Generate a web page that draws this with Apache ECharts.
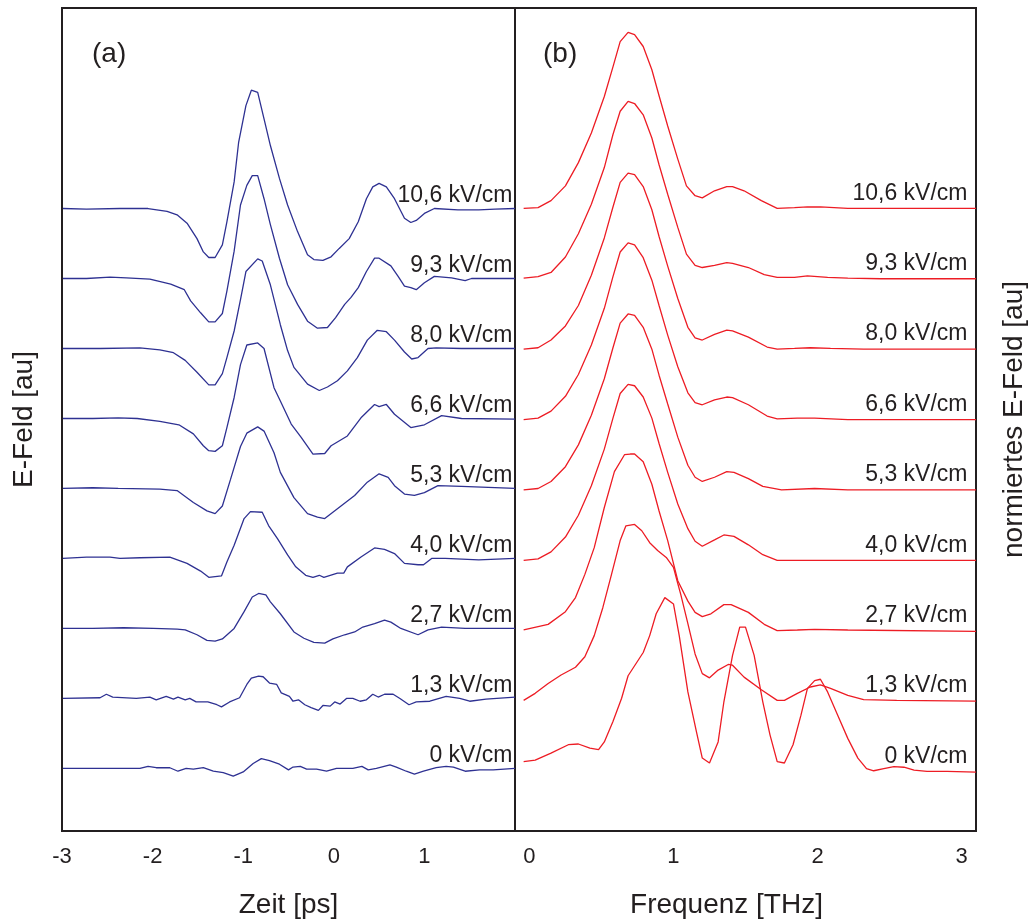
<!DOCTYPE html>
<html>
<head>
<meta charset="utf-8">
<script src="https://cdn.jsdelivr.net/npm/echarts@6/dist/echarts.min.js"></script>
<style>
html,body{margin:0;padding:0;background:#fff;}
#chart{width:1029px;height:924px;}
</style>
</head>
<body>
<div id="chart"></div>
<script>
// ---- field strengths (labels), bottom to top ----
const fieldLabels = ['0 kV/cm','1,3 kV/cm','2,7 kV/cm','4,0 kV/cm','5,3 kV/cm','6,6 kV/cm','8,0 kV/cm','9,3 kV/cm','10,6 kV/cm'];
const timeTicks = [-3,-2,-1,0,1];
const freqTicks = [0,1,2,3];

// ---- (a) time traces: [Zeit ps, E-Feld au] ----
const zeit_0 = [[-2.99,0],[-2.66,0],[-2.14,0],[-2.05,0.03],[-1.96,0.01],[-1.81,0.01],[-1.72,-0.04],[-1.63,0],[-1.55,-0.01],[-1.44,0.01],[-1.33,-0.04],[-1.22,-0.06],[-1.11,-0.11],[-1.00,-0.05],[-0.89,0.07],[-0.80,0.14],[-0.71,0.11],[-0.60,0.06],[-0.50,-0.02],[-0.45,0.02],[-0.37,0.03],[-0.30,-0.01],[-0.19,-0.01],[-0.08,-0.04],[0.03,0],[0.14,0],[0.21,0],[0.31,0.03],[0.38,-0.02],[0.47,0],[0.62,0.05],[0.69,0.02],[0.80,-0.04],[0.89,-0.08],[0.99,-0.04],[1.13,0.01],[1.24,0.03],[1.32,0.02],[1.45,-0.04],[1.61,-0.02],[1.76,-0.02],[2.0,0]];
const zeit_1_3 = [[-2.99,0],[-2.58,0.01],[-2.51,0.06],[-2.44,0.02],[-2.18,0],[-2.03,0.02],[-1.96,-0.02],[-1.85,0.03],[-1.77,-0.01],[-1.72,0.02],[-1.64,-0.02],[-1.59,0],[-1.52,-0.05],[-1.39,-0.05],[-1.29,-0.09],[-1.24,-0.12],[-1.15,-0.05],[-1.04,0.01],[-0.96,0.20],[-0.91,0.29],[-0.83,0.32],[-0.78,0.31],[-0.71,0.22],[-0.63,0.20],[-0.58,0.08],[-0.49,0.03],[-0.45,-0.04],[-0.39,-0.02],[-0.32,-0.09],[-0.25,-0.13],[-0.17,-0.17],[-0.12,-0.10],[-0.04,-0.11],[0.01,-0.05],[0.07,-0.08],[0.14,0],[0.21,0],[0.29,-0.04],[0.36,-0.02],[0.43,0.06],[0.49,0.02],[0.56,0.06],[0.655,0.06],[0.73,0],[0.83,-0.09],[0.91,-0.05],[1.06,-0.04],[1.24,0.03],[1.39,0],[1.50,-0.04],[1.68,-0.01],[2.0,0.02]];
const zeit_2_7 = [[-2.99,0],[-2.66,0],[-2.32,0.01],[-1.99,0],[-1.73,-0.01],[-1.64,-0.02],[-1.51,-0.09],[-1.40,-0.17],[-1.31,-0.18],[-1.23,-0.15],[-1.10,0],[-0.99,0.24],[-0.90,0.45],[-0.83,0.50],[-0.75,0.48],[-0.70,0.38],[-0.59,0.21],[-0.44,-0.05],[-0.33,-0.14],[-0.22,-0.20],[-0.10,-0.21],[-0.01,-0.15],[0.12,-0.09],[0.23,-0.05],[0.32,0.02],[0.45,0.07],[0.56,0.12],[0.63,0.09],[0.74,0],[0.93,-0.09],[1.04,-0.02],[1.19,0.02],[1.45,0],[2.0,0]];
const zeit_4_0 = [[-2.99,0],[-2.73,0.02],[-2.47,0.02],[-2.36,0],[-2.14,0.01],[-1.81,0.02],[-1.62,-0.07],[-1.47,-0.18],[-1.38,-0.27],[-1.24,-0.25],[-1.18,-0.05],[-1.10,0.19],[-0.99,0.57],[-0.92,0.67],[-0.79,0.66],[-0.72,0.47],[-0.62,0.28],[-0.51,0.05],[-0.42,-0.12],[-0.31,-0.24],[-0.23,-0.27],[-0.16,-0.24],[-0.11,-0.27],[0.04,-0.21],[0.11,-0.21],[0.15,-0.12],[0.30,0.02],[0.45,0.15],[0.56,0.13],[0.67,0.07],[0.78,-0.07],[0.93,-0.09],[0.99,-0.09],[1.08,0],[1.23,0],[1.60,-0.02],[2.0,0]];
const zeit_5_3 = [[-2.99,0],[-2.66,0.01],[-2.38,0],[-1.92,-0.01],[-1.73,-0.03],[-1.55,-0.20],[-1.40,-0.32],[-1.31,-0.36],[-1.23,-0.25],[-1.14,0.13],[-1.03,0.60],[-0.96,0.79],[-0.84,0.88],[-0.77,0.82],[-0.66,0.51],[-0.59,0.23],[-0.44,-0.13],[-0.29,-0.36],[-0.18,-0.41],[-0.10,-0.43],[0.04,-0.29],[0.23,-0.10],[0.37,0.09],[0.50,0.21],[0.60,0.16],[0.67,0.04],[0.78,-0.08],[0.89,-0.10],[1.00,-0.06],[1.15,0.04],[1.41,0.03],[2.0,0]];
const zeit_6_6 = [[-2.99,0],[-2.66,0],[-2.38,0.01],[-2.17,0],[-1.92,-0.04],[-1.71,-0.09],[-1.55,-0.22],[-1.44,-0.39],[-1.38,-0.46],[-1.31,-0.47],[-1.23,-0.39],[-1.18,-0.13],[-1.10,0.30],[-1.03,0.77],[-0.96,1.05],[-0.84,1.08],[-0.77,1.00],[-0.66,0.44],[-0.59,0.25],[-0.47,-0.08],[-0.36,-0.27],[-0.23,-0.51],[-0.10,-0.50],[-0.03,-0.39],[0.15,-0.25],[0.30,0.01],[0.45,0.20],[0.50,0.17],[0.58,0.20],[0.67,0.06],[0.85,-0.13],[1.00,-0.09],[1.19,0.04],[1.41,0],[2.0,-0.01]];
const zeit_8_0 = [[-2.99,0],[-2.58,0],[-2.14,0.01],[-1.92,-0.02],[-1.77,-0.06],[-1.64,-0.17],[-1.51,-0.34],[-1.38,-0.52],[-1.31,-0.52],[-1.23,-0.36],[-1.18,-0.13],[-1.10,0.25],[-1.03,0.70],[-0.97,1.10],[-0.84,1.28],[-0.79,1.25],[-0.70,0.91],[-0.59,0.34],[-0.51,-0.03],[-0.44,-0.27],[-0.29,-0.51],[-0.16,-0.60],[-0.07,-0.55],[0.04,-0.46],[0.15,-0.32],[0.26,-0.13],[0.37,0.12],[0.48,0.26],[0.58,0.24],[0.67,0.12],[0.78,-0.05],[0.86,-0.15],[0.93,-0.13],[1.04,0],[1.13,0.01],[1.41,0],[1.78,0],[2.0,0]];
const zeit_9_3 = [[-2.99,0],[-2.73,0],[-2.47,0.02],[-2.29,0.01],[-2.03,-0.01],[-1.80,-0.08],[-1.65,-0.16],[-1.58,-0.32],[-1.47,-0.49],[-1.38,-0.62],[-1.31,-0.62],[-1.23,-0.50],[-1.18,-0.18],[-1.10,0.39],[-1.03,1.05],[-0.96,1.33],[-0.90,1.47],[-0.84,1.47],[-0.77,1.14],[-0.70,0.77],[-0.60,0.29],[-0.51,-0.09],[-0.40,-0.37],[-0.29,-0.61],[-0.18,-0.71],[-0.07,-0.70],[0.02,-0.56],[0.12,-0.37],[0.19,-0.27],[0.27,-0.13],[0.36,0.10],[0.45,0.29],[0.50,0.29],[0.63,0.18],[0.71,0.03],[0.78,-0.11],[0.85,-0.13],[0.91,-0.16],[1.00,-0.06],[1.11,0.03],[1.30,0.01],[1.45,-0.03],[1.52,0],[1.78,0],[2.0,0]];
const zeit_10_6 = [[-2.99,0],[-2.73,-0.01],[-2.36,0],[-2.05,0],[-1.84,-0.04],[-1.73,-0.09],[-1.62,-0.21],[-1.51,-0.43],[-1.44,-0.62],[-1.38,-0.70],[-1.31,-0.70],[-1.23,-0.52],[-1.18,-0.19],[-1.10,0.38],[-1.05,0.95],[-0.97,1.47],[-0.91,1.69],[-0.84,1.66],[-0.77,1.28],[-0.70,0.90],[-0.60,0.43],[-0.51,0.05],[-0.40,-0.33],[-0.29,-0.66],[-0.22,-0.73],[-0.12,-0.74],[-0.03,-0.69],[0.06,-0.57],[0.17,-0.43],[0.27,-0.19],[0.36,0.14],[0.43,0.31],[0.50,0.36],[0.58,0.31],[0.67,0.14],[0.78,-0.14],[0.85,-0.20],[0.91,-0.17],[1.00,-0.07],[1.11,0],[1.37,-0.02],[1.60,-0.02],[1.78,-0.01],[2.0,0]];

// ---- (b) spectra: [Frequenz THz, normiertes E-Feld au] ----
const freq_0 = [[-0.04,0.14],[0.04,0.16],[0.15,0.26],[0.27,0.38],[0.34,0.39],[0.42,0.33],[0.48,0.31],[0.52,0.42],[0.58,0.71],[0.64,1.04],[0.685,1.36],[0.79,1.69],[0.835,1.93],[0.88,2.24],[0.94,2.47],[1.00,2.38],[1.04,1.93],[1.10,1.13],[1.16,0.56],[1.20,0.19],[1.25,0.12],[1.31,0.42],[1.35,0.99],[1.41,1.65],[1.46,2.05],[1.50,2.05],[1.56,1.65],[1.62,0.99],[1.67,0.52],[1.72,0.14],[1.77,0.12],[1.83,0.38],[1.885,0.80],[1.93,1.18],[1.98,1.29],[2.02,1.31],[2.07,1.13],[2.14,0.80],[2.21,0.47],[2.28,0.19],[2.34,0.04],[2.39,0.01],[2.46,0.04],[2.53,0.07],[2.60,0.06],[2.67,0.02],[2.76,0],[2.90,0],[3.1,-0.01]];
const freq_1_3 = [[-0.04,0.01],[0.04,0.11],[0.13,0.25],[0.22,0.37],[0.32,0.48],[0.385,0.63],[0.45,0.93],[0.51,1.33],[0.57,1.80],[0.63,2.28],[0.67,2.49],[0.73,2.51],[0.78,2.42],[0.835,2.25],[0.89,2.14],[0.95,2.04],[1.00,1.90],[1.03,1.67],[1.05,1.52],[1.10,1.10],[1.15,0.67],[1.20,0.39],[1.25,0.33],[1.31,0.44],[1.38,0.52],[1.41,0.51],[1.49,0.34],[1.61,0.16],[1.72,0.01],[1.77,0.01],[1.86,0.11],[1.95,0.20],[2.02,0.23],[2.09,0.18],[2.21,0.08],[2.32,0.02],[2.55,0.01],[3.1,0]];
const freq_2_7 = [[-0.04,0.01],[0.13,0.09],[0.25,0.27],[0.32,0.47],[0.385,0.80],[0.45,1.18],[0.52,1.75],[0.59,2.26],[0.66,2.50],[0.70,2.51],[0.73,2.51],[0.79,2.40],[0.85,2.08],[0.90,1.70],[0.96,1.28],[1.03,0.71],[1.10,0.42],[1.15,0.26],[1.20,0.20],[1.26,0.24],[1.35,0.37],[1.40,0.37],[1.52,0.26],[1.63,0.09],[1.72,0],[1.86,0.01],[1.98,0.02],[2.21,0.01],[3.1,-0.01]];
const freq_4_0 = [[-0.04,0],[0.06,0.02],[0.15,0.12],[0.25,0.33],[0.34,0.64],[0.43,1.06],[0.52,1.58],[0.58,2.02],[0.63,2.37],[0.685,2.50],[0.73,2.48],[0.79,2.32],[0.85,2.02],[0.90,1.66],[0.96,1.25],[1.03,0.80],[1.10,0.45],[1.15,0.27],[1.20,0.20],[1.285,0.29],[1.35,0.36],[1.42,0.34],[1.52,0.22],[1.62,0.08],[1.72,0],[2.0,0],[3.1,0]];
const freq_5_3 = [[-0.04,0],[0.06,0.02],[0.15,0.12],[0.25,0.33],[0.34,0.64],[0.43,1.06],[0.52,1.58],[0.58,2.02],[0.63,2.37],[0.685,2.50],[0.73,2.48],[0.79,2.31],[0.85,2.00],[0.90,1.63],[0.96,1.22],[1.03,0.75],[1.10,0.35],[1.15,0.18],[1.20,0.12],[1.285,0.18],[1.37,0.26],[1.42,0.25],[1.52,0.16],[1.62,0.05],[1.75,0],[1.98,0.02],[2.21,0],[3.1,0]];
const freq_6_6 = [[-0.04,0],[0.06,0.02],[0.15,0.12],[0.25,0.33],[0.34,0.64],[0.43,1.06],[0.52,1.58],[0.58,2.03],[0.63,2.38],[0.685,2.51],[0.73,2.48],[0.79,2.30],[0.85,1.98],[0.90,1.62],[0.96,1.20],[1.03,0.75],[1.10,0.38],[1.15,0.24],[1.20,0.21],[1.285,0.28],[1.37,0.32],[1.41,0.31],[1.52,0.21],[1.65,0.05],[1.72,0.01],[1.86,0.02],[1.98,0.02],[2.21,0],[3.1,0]];
const freq_8_0 = [[-0.04,0],[0.06,0.02],[0.15,0.13],[0.25,0.33],[0.34,0.62],[0.43,1.05],[0.52,1.58],[0.58,2.02],[0.63,2.37],[0.685,2.50],[0.73,2.48],[0.79,2.31],[0.85,1.98],[0.90,1.60],[0.96,1.18],[1.03,0.72],[1.10,0.31],[1.15,0.16],[1.20,0.13],[1.285,0.21],[1.37,0.27],[1.41,0.26],[1.52,0.17],[1.65,0.03],[1.72,0],[1.84,0.01],[1.95,0.02],[2.09,0.01],[2.32,0],[3.1,0]];
const freq_9_3 = [[-0.04,0.01],[0.06,0.03],[0.15,0.09],[0.25,0.31],[0.34,0.64],[0.43,1.06],[0.52,1.58],[0.58,2.05],[0.63,2.38],[0.685,2.52],[0.73,2.49],[0.79,2.33],[0.85,2.00],[0.90,1.62],[0.96,1.20],[1.03,0.73],[1.09,0.35],[1.15,0.19],[1.20,0.16],[1.285,0.19],[1.37,0.23],[1.41,0.22],[1.52,0.16],[1.63,0.06],[1.72,0.02],[1.84,0.02],[1.93,0.04],[2.07,0.02],[2.21,0.01],[2.44,0],[3.1,0]];
const freq_10_6 = [[-0.04,0],[0.06,0.01],[0.15,0.11],[0.25,0.32],[0.34,0.65],[0.43,1.07],[0.52,1.59],[0.58,2.01],[0.63,2.37],[0.685,2.50],[0.73,2.47],[0.79,2.30],[0.85,1.97],[0.90,1.60],[0.96,1.17],[1.03,0.70],[1.09,0.32],[1.15,0.18],[1.20,0.15],[1.285,0.25],[1.37,0.31],[1.41,0.31],[1.49,0.25],[1.61,0.11],[1.72,0],[1.84,0.01],[1.93,0.02],[2.02,0.02],[2.21,0],[2.44,0],[2.67,0],[3.1,0]];

const zeitCurves = [zeit_0, zeit_1_3, zeit_2_7, zeit_4_0, zeit_5_3, zeit_6_6, zeit_8_0, zeit_9_3, zeit_10_6];
const freqCurves = [freq_0, freq_1_3, freq_2_7, freq_4_0, freq_5_3, freq_6_6, freq_8_0, freq_9_3, freq_10_6];

const FONT = "'Liberation Sans', Arial, Helvetica, sans-serif";
const TXT = '#231F20';
const BLUE = '#2E3192';
const RED = '#ED1C24';

const series = [];
zeitCurves.forEach((c, i) => {
  series.push({
    type: 'line', xAxisIndex: 0, yAxisIndex: 0, name: fieldLabels[i],
    data: c.map(p => [p[0], p[1] + i]),
    showSymbol: false, symbol: 'none', silent: true,
    lineStyle: {color: BLUE, width: 1.3}
  });
});
freqCurves.forEach((c, i) => {
  series.push({
    type: 'line', xAxisIndex: 1, yAxisIndex: 1, name: fieldLabels[i],
    data: c.map(p => [p[0], p[1] + i]),
    showSymbol: false, symbol: 'none', silent: true,
    lineStyle: {color: RED, width: 1.3}
  });
});
// curve labels
series.push({
  type: 'scatter', xAxisIndex: 0, yAxisIndex: 0, silent: true, symbolSize: 1,
  itemStyle: {color: 'rgba(255,255,255,0)'},
  data: fieldLabels.map((n, i) => ({name: n, value: [2, i]})),
  label: {show: true, position: 'left', distance: 2, offset: [0, -13], formatter: '{b}',
          fontSize: 23, fontFamily: FONT, color: TXT, opacity: 1}
});
series.push({
  type: 'scatter', xAxisIndex: 1, yAxisIndex: 1, silent: true, symbolSize: 1,
  itemStyle: {color: 'rgba(255,255,255,0)'},
  data: fieldLabels.map((n, i) => ({name: n, value: [3.1, i]})),
  label: {show: true, position: 'left', distance: 8, offset: [0, -15], formatter: '{b}',
          fontSize: 23, fontFamily: FONT, color: TXT, opacity: 1}
});

const hiddenY = {
  axisLine: {show: false}, axisTick: {show: false}, axisLabel: {show: false}, splitLine: {show: false}
};

const option = {
  animation: false,
  backgroundColor: '#ffffff',
  textStyle: {fontFamily: FONT, color: TXT},
  grid: [
    {left: 62, top: 8, width: 453, height: 829, show: true, borderColor: TXT, borderWidth: 2, backgroundColor: 'transparent'},
    {left: 515, top: 8, width: 462, height: 829, show: true, borderColor: TXT, borderWidth: 2, backgroundColor: 'transparent'}
  ],
  xAxis: [
    {gridIndex: 0, type: 'value', min: -3, max: 2,
     axisLine: {show: false}, axisTick: {show: false}, splitLine: {show: false},
     axisLabel: {customValues: timeTicks, fontSize: 22, margin: 15, color: TXT, fontFamily: FONT},
     name: 'Zeit [ps]', nameLocation: 'middle', nameGap: 60,
     nameTextStyle: {fontSize: 28, color: TXT, fontFamily: FONT}},
    {gridIndex: 1, type: 'value', min: -0.1, max: 3.1,
     axisLine: {show: false}, axisTick: {show: false}, splitLine: {show: false},
     axisLabel: {customValues: freqTicks, fontSize: 22, margin: 15, color: TXT, fontFamily: FONT},
     name: 'Frequenz [THz]', nameLocation: 'middle', nameGap: 60,
     nameTextStyle: {fontSize: 28, color: TXT, fontFamily: FONT, padding: [0, 38, 0, 0]}}
  ],
  yAxis: [
    Object.assign({gridIndex: 0, type: 'value', min: -0.894, max: 10.865,
     name: 'E-Feld [au]', nameLocation: 'middle', nameGap: 24, nameRotate: 90,
     nameTextStyle: {fontSize: 28, color: TXT, fontFamily: FONT}}, hiddenY),
    Object.assign({gridIndex: 1, type: 'value', position: 'right', min: -0.846, max: 10.847,
     name: 'normiertes E-Feld [au]', nameLocation: 'middle', nameGap: 24, nameRotate: 90,
     nameTextStyle: {fontSize: 28, color: TXT, fontFamily: FONT}}, hiddenY)
  ],
  graphic: [
    {type: 'text', left: 92, top: 40, style: {text: '(a)', font: '28px ' + FONT, fill: TXT}},
    {type: 'text', left: 543, top: 40, style: {text: '(b)', font: '28px ' + FONT, fill: TXT}}
  ],
  series: series
};

const chart = echarts.init(document.getElementById('chart'), null, {renderer: 'canvas'});
chart.setOption(option);
</script>
</body>
</html>
